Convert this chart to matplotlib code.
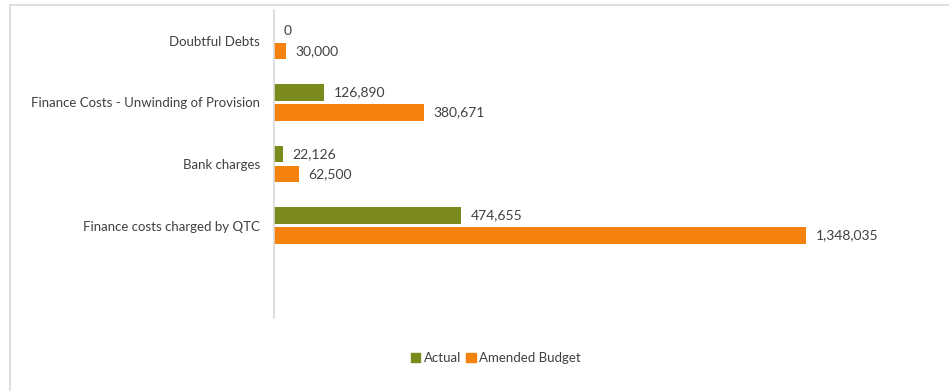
import numpy as np
import matplotlib.pyplot as plt
from matplotlib.patches import Rectangle
from matplotlib.lines import Line2D

categories = ["Doubtful Debts", "Finance Costs - Unwinding of Provision",
              "Bank charges", "Finance costs charged by QTC", ""]
actual = [0, 126890, 22126, 474655, None]
amended_budget = [30000, 380671, 62500, 1348035, None]
series_names = ["Actual", "Amended Budget"]

GREEN = "#7b8a1c"
ORANGE = "#f5820d"
TEXT = "#404040"

plt.rcParams["font.family"] = ["Lato", "DejaVu Sans"]

W, H = 949, 391
fig = plt.figure(figsize=(W / 100, H / 100), dpi=100)

# chart frame (light gray border, running off the right and bottom)
fig.add_artist(Line2D([10 / W, 1], [1 - 5 / H, 1 - 5 / H], color="#d9d9d9", lw=1.2))
fig.add_artist(Line2D([10 / W, 10 / W], [0, 1 - 5 / H], color="#d9d9d9", lw=1.2))

ax = fig.add_axes([274 / W, 1 - 318 / H, (940 - 274) / W, (318 - 10) / H])

y = np.arange(len(categories))
bar_h = 0.267
offset = 0.162

for i, (a, b) in enumerate(zip(actual, amended_budget)):
    if a is not None:
        ax.barh(y[i] - offset, a, height=bar_h, color=GREEN)
        ax.text(a + 24000, y[i] - offset, f"{a:,}", va="center", ha="left",
                fontsize=10, color=TEXT)
    if b is not None:
        ax.barh(y[i] + offset, b, height=bar_h, color=ORANGE)
        ax.text(b + 24000, y[i] + offset, f"{b:,}", va="center", ha="left",
                fontsize=10, color=TEXT)

ax.set_ylim(len(categories) - 0.5, -0.5)
ax.set_xlim(0, 1686000)
ax.set_yticks(y)
ax.set_yticklabels(categories, fontsize=9.5, color=TEXT)
ax.tick_params(axis="y", length=0, pad=10)
ax.set_xticks([])
for side in ["top", "right", "bottom"]:
    ax.spines[side].set_visible(False)
ax.spines["left"].set_color("#d9d9d9")
ax.spines["left"].set_linewidth(1.2)

handles = [Rectangle((0, 0), 1, 1, color=GREEN), Rectangle((0, 0), 1, 1, color=ORANGE)]
fig.legend(handles, series_names, loc="center", bbox_to_anchor=(496 / W, 1 - 358 / H),
           ncol=2, frameon=False, fontsize=9.5, handlelength=0.7, handleheight=0.7,
           handletextpad=0.25, columnspacing=0.4, labelcolor=TEXT)

fig.savefig("out.png", dpi=100, facecolor="white")
